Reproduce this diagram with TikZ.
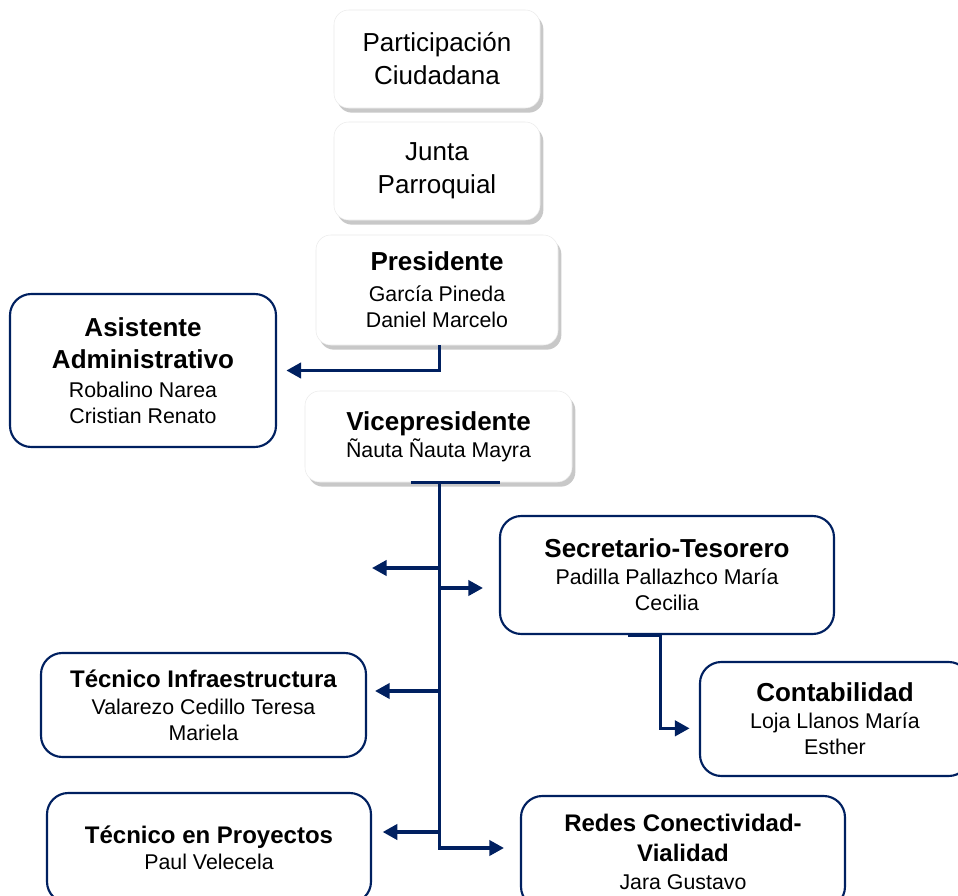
\documentclass[tikz,border=0pt]{standalone}
\usepackage{fontspec}
\setmainfont{Liberation Sans}
\usetikzlibrary{arrows.meta,shadows}
\definecolor{navy}{RGB}{0,32,96}
\newcommand{\ttl}[1]{{\fontsize{19.5}{24}\selectfont\bfseries #1}}
\newcommand{\ttlb}[1]{{\fontsize{18}{22}\selectfont\bfseries #1}}

\begin{document}
\begin{tikzpicture}[x=0.75pt, y=-0.75pt,
    font=\fontsize{16}{19.5}\selectfont,
    card/.style={rectangle, rounded corners=11pt, fill=white, draw=black!8, line width=0.4pt, align=center,
                 drop shadow={shadow xshift=2.5pt, shadow yshift=-3.5pt, opacity=0.3, fill=black!70}},
    post/.style={rectangle, rounded corners=16pt, fill=white, draw=navy, line width=1.6pt, align=center},
    line/.style={navy, line width=2.4pt},
    conn/.style={line, -{Triangle[length=11pt, width=11.5pt]}, shorten >=7pt}]
    \useasboundingbox (0,0) rectangle (958,896);
    \fill[white] (0,0) rectangle (958,896);
    \clip (0,0) rectangle (958,896);

    \node[card, minimum width=154.5pt, minimum height=73.5pt, font=\fontsize{19.5}{24.75}\selectfont] (part)  at (437, 59)    {Participación\\Ciudadana};
    \node[card, minimum width=154.5pt, minimum height=73.5pt, font=\fontsize{19.5}{24.75}\selectfont] (junta) at (437, 171)   {Junta\\Parroquial};
    \node[card, minimum width=181.5pt, minimum height=82.5pt]  (pres)  at (437, 290)   {\ttl{Presidente}\\[4pt]García Pineda\\Daniel Marcelo};
    \node[post, minimum width=199.5pt, minimum height=114.75pt] (asis) at (143, 370.5) {\ttl{Asistente}\\[5pt]\ttl{Administrativo}\\[2pt]Robalino Narea\\Cristian Renato};
    \node[card, minimum width=200.25pt, minimum height=68.25pt] (vice)  at (438.5, 436.5) {\ttl{Vicepresidente}\\[1pt]Ñauta Ñauta Mayra};
    \node[post, minimum width=250.5pt, minimum height=88.5pt]  (secr)  at (667, 575)   {\ttl{Secretario-Tesorero}\\[1pt]Padilla Pallazhco María\\Cecilia};
    \node[post, minimum width=202.5pt, minimum height=85.5pt]  (cont)  at (835, 719)   {\ttl{Contabilidad}\\[1pt]Loja Llanos María\\Esther};
    \node[post, minimum width=243.75pt, minimum height=78pt]   (tinf)  at (203.5, 705) {\ttlb{Técnico Infraestructura}\\[1pt]Valarezo Cedillo Teresa\\Mariela};
    \node[post, minimum width=243pt, minimum height=82.5pt]    (tpro)  at (209, 848)   {\ttlb{Técnico en Proyectos}\\Paul Velecela};
    \node[post, minimum width=243pt, minimum height=84pt]      (redes) at (683, 852)   {\ttlb{Redes Conectividad-}\\[3pt]\ttlb{Vialidad}\\[1pt]Jara Gustavo};

    \coordinate (open)   at (372, 568);
    \coordinate (secin)  at ([yshift=-9.75pt]secr.west);
    \coordinate (tinfin) at ([yshift=10.5pt]tinf.east);
    \coordinate (tproin) at ([yshift=12pt]tpro.east);

    \draw[conn] ([xshift=2pt]pres.south) |- (asis.east);
    \draw[line] ([xshift=-21pt]vice.south) -- ([xshift=46pt]vice.south);
    \draw[conn, shorten >=12pt] ([xshift=1pt]vice.south) |- ([yshift=3pt]redes.west);
    \draw[conn, shorten >=0pt] ([xshift=1pt]vice.south |- open) -- (open);
    \draw[conn, shorten >=12pt] ([xshift=1pt]vice.south |- secin) -- (secin);
    \draw[conn, shorten >=6pt] ([xshift=1pt]vice.south |- tinfin) -- (tinfin);
    \draw[conn, shorten >=8pt] ([xshift=1pt]vice.south |- tproin) -- (tproin);
    \draw[line] ([xshift=-29pt]secr.south) -- ([xshift=-5pt]secr.south);
    \draw[conn] ([xshift=-5pt]secr.south) |- ([yshift=-7pt]cont.west);
\end{tikzpicture}
\end{document}
